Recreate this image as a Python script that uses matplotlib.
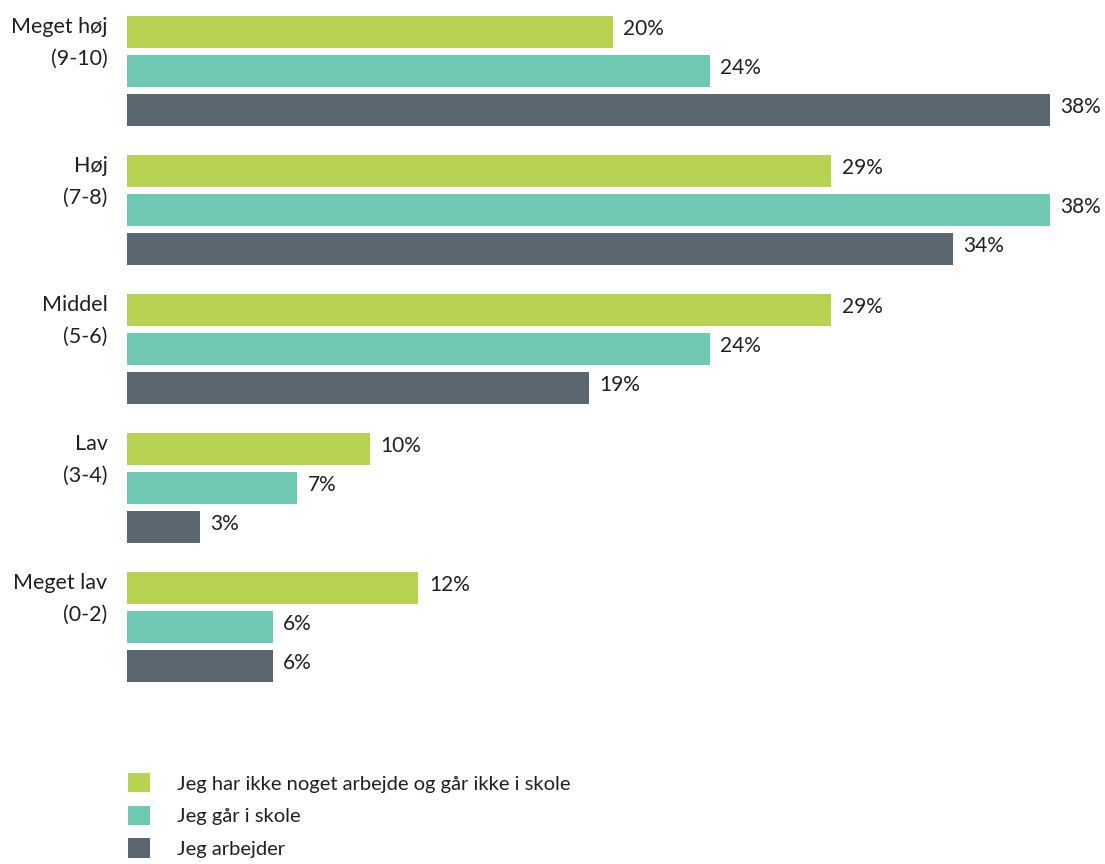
import matplotlib.pyplot as plt
from matplotlib.patches import Patch

plt.rcParams['font.family'] = ['Lato', 'DejaVu Sans']

categories = ["Meget høj\n(9-10)", "Høj\n(7-8)", "Middel\n(5-6)", "Lav\n(3-4)", "Meget lav\n(0-2)"]
series_names = ["Jeg har ikke noget arbejde og går ikke i skole",
                "Jeg går i skole",
                "Jeg arbejder"]
no_work_no_school = [20, 29, 29, 10, 12]
in_school = [24, 38, 24, 7, 6]
working = [38, 34, 19, 3, 6]
colors = ["#b8d353", "#70c9b3", "#5b6770"]

all_series = [no_work_no_school, in_school, working]

W, H = 1105, 864
fig = plt.figure(figsize=(W / 100, H / 100), dpi=100)
# axes placed in pixel units: left 127, right 1050, top 0, bottom 700
ax = fig.add_axes([127 / W, 1 - 700 / H, (1050 - 127) / W, 700 / H])
ax.set_xlim(0, 38)
ax.set_ylim(700, 0)  # y in pixel units, top down

group_step = 139
bar_step = 39
bar_h = 32
first = 16 + bar_h / 2

for s, vals in enumerate(all_series):
    ys = [first + g * group_step + s * bar_step for g in range(len(vals))]
    ax.barh(ys, vals, height=bar_h, color=colors[s], edgecolor='none')
    for y, v in zip(ys, vals):
        ax.annotate(f"{v}%", xy=(v, y - 3), xytext=(7.5, 0), textcoords='offset points',
                    va='center', ha='left', fontsize=15, color='#231f20',
                    annotation_clip=False)

for g, cat in enumerate(categories):
    ax.text(-0.8, 16 + g * group_step + 1, cat, ha='right', va='top',
            fontsize=15.5, color='#231f20', linespacing=1.75)

ax.axis('off')

handles = [Patch(facecolor=c, edgecolor='none') for c in colors]
fig.legend(handles, series_names, loc='upper left',
           bbox_to_anchor=(110 / W, 1 - 755 / H), frameon=False,
           fontsize=14.5, handlelength=1.1, handleheight=1.1,
           labelspacing=0.65, handletextpad=1.35, labelcolor='#231f20')

fig.savefig("out.png", dpi=100)
